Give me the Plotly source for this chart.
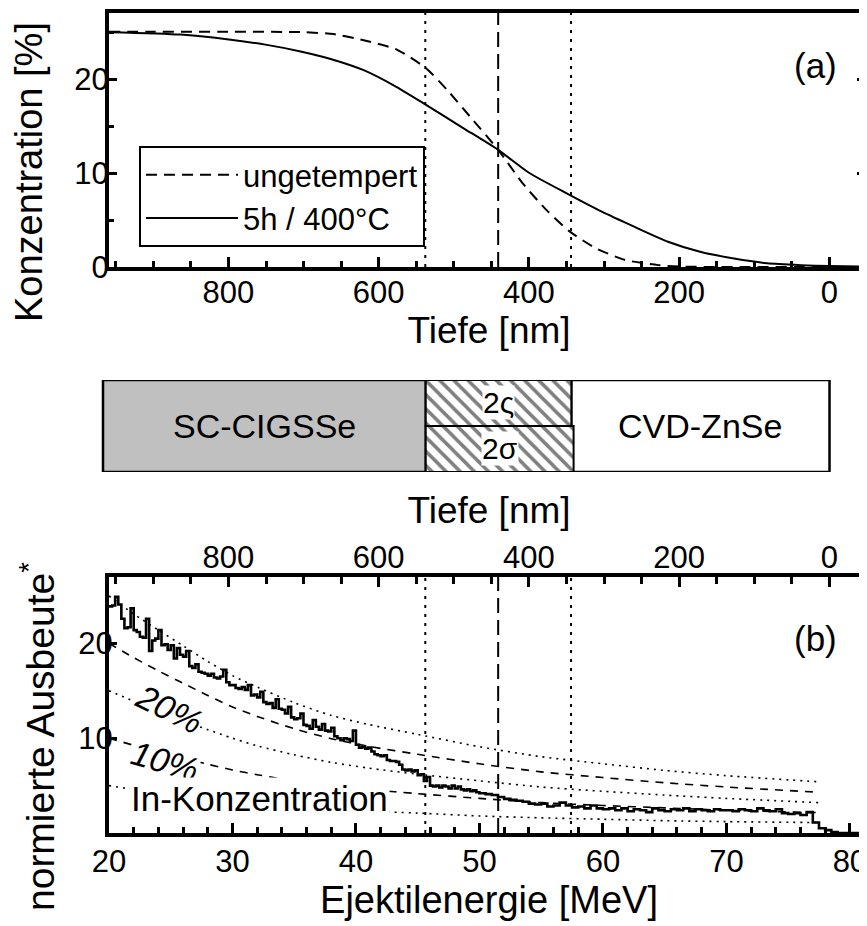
import plotly.graph_objects as go

# ---------------- data: panel (a) In depth profiles ----------------
depth_unannealed = [959, 900, 800, 700, 660, 620, 576, 537, 509, 478, 441, 408, 377, 346, 311, 272, 228, 200, 150, 0, -52]
conc_unannealed = [25.1, 25.1, 25.1, 25.05, 24.85, 24.2, 23.2, 21.2, 18.9, 16.0, 12.5, 8.9, 6.1, 3.8, 2.0, 0.75, 0.2, 0.05, 0.0, 0.0, 0.0]
depth_annealed = [959, 864, 802, 749, 704, 664, 620, 576, 537, 487, 441, 399, 346, 303, 260, 215, 171, 127, 83, 38, 0, -52]
conc_annealed = [25.05, 24.8, 24.3, 23.7, 23.0, 22.2, 21.0, 19.2, 17.3, 14.8, 12.5, 10.0, 7.7, 5.9, 4.3, 2.7, 1.6, 0.9, 0.4, 0.2, 0.1, 0.05]
series_names = ["ungetempert", "5h / 400°C"]

interface_depth = [441]
width_depths = [538, 344]

# ---------------- data: layer scheme ----------------
layer_names = ["SC-CIGSSe", "CVD-ZnSe"]
layer_start = [968, 344]
layer_end = [538, 0]
mix_names = ["2ς", "2σ"]
mix_start = [538, 538]
mix_end = [344, 341]

# ---------------- data: panel (b) spectrum ----------------
energy_bins = [20.0, 20.25, 20.5, 20.75, 21.0, 21.25, 21.5, 21.75, 22.0, 22.25, 22.5, 22.75,
               23.0, 23.25, 23.5, 23.75, 24.0, 24.25, 24.5, 24.75, 25.0, 25.25, 25.5, 25.75,
               26.0, 26.25, 26.5, 26.75, 27.0, 27.25, 27.5, 27.75, 28.0, 28.25, 28.5, 28.75,
               29.0, 29.25, 29.5, 29.75, 30.0, 30.25, 30.5, 30.75, 31.0, 31.25, 31.5, 31.75,
               32.0, 32.25, 32.5, 32.75, 33.0, 33.25, 33.5, 33.75, 34.0, 34.25, 34.5, 34.75,
               35.0, 35.25, 35.5, 35.75, 36.0, 36.25, 36.5, 36.75, 37.0, 37.25, 37.5, 37.75,
               38.0, 38.25, 38.5, 38.75, 39.0, 39.25, 39.5, 39.75, 40.0, 40.25, 40.5, 40.75,
               41.0, 41.25, 41.5, 41.75, 42.0, 42.25, 42.5, 42.75, 43.0, 43.25, 43.5, 43.75,
               44.0, 44.25, 44.5, 44.75, 45.0, 45.25, 45.5, 45.75, 46.0, 46.25, 46.5, 46.75,
               47.0, 47.25, 47.5, 47.75, 48.0, 48.25, 48.5, 48.75, 49.0, 49.25, 49.5, 49.75,
               50.0, 50.5, 51.0, 51.5, 52.0, 52.5, 53.0, 53.5, 54.0, 54.5, 55.0, 55.5,
               56.0, 56.5, 57.0, 57.5, 58.0, 58.5, 59.0, 59.5, 60.0, 60.5, 61.0, 61.5,
               62.0, 62.5, 63.0, 63.5, 64.0, 64.5, 65.0, 65.5, 66.0, 66.5, 67.0, 67.5,
               68.0, 68.5, 69.0, 69.5, 70.0, 70.5, 71.0, 71.5, 72.0, 72.5, 73.0, 73.5,
               74.0, 74.5, 75.0, 75.5, 76.0, 76.5, 77.0, 77.5, 78.0, 78.5, 79.0, 79.5,
               80.0, 80.5, 81.0]
spectrum = [23.9, 24.0, 24.9, 24.1, 22.6, 21.6, 21.7, 23.7, 21.4, 21.2, 20.7, 20.6,
            22.6, 19.2, 20.3, 20.5, 21.4, 19.8, 19.9, 19.3, 19.8, 18.4, 19.5, 18.8,
            18.6, 19.2, 17.6, 17.4, 17.8, 17.0, 16.9, 16.8, 16.6, 16.8, 16.4, 16.3,
            16.5, 17.2, 15.9, 15.6, 15.6, 15.3, 15.2, 15.4, 15.1, 15.6, 14.5, 14.6,
            14.3, 14.9, 13.8, 13.6, 13.7, 13.2, 14.1, 13.1, 13.0, 12.6, 13.3, 12.2,
            12.0, 12.1, 12.6, 11.4, 11.3, 11.0, 11.9, 11.2, 10.9, 11.5, 10.8, 10.7,
            11.1, 10.2, 10.0, 9.8, 10.0, 9.9, 9.7, 10.8, 9.3, 9.0, 9.1, 8.9,
            9.0, 8.6, 8.3, 8.2, 8.1, 8.2, 7.7, 7.6, 7.6, 7.5, 7.2, 6.7,
            6.6, 6.7, 6.5, 6.6, 6.1, 6.2, 5.5, 5.9, 5.0, 4.9, 5.0, 4.8,
            5.0, 4.9, 4.7, 5.0, 4.7, 4.9, 4.6, 4.5, 4.6, 4.4, 4.5, 4.3,
            4.2, 4.1, 4.0, 3.8, 3.6, 3.5, 3.4, 3.3, 3.1, 3.0, 3.1, 2.8,
            2.9, 3.2, 2.9, 2.7, 2.8, 2.6, 2.9, 2.6, 2.5, 2.6, 2.4, 2.6,
            2.3, 2.5, 2.4, 2.2, 2.6, 2.4, 2.3, 2.5, 2.4, 2.6, 2.3, 2.5,
            2.4, 2.3, 2.5, 2.4, 2.4, 2.3, 2.5, 2.4, 2.3, 2.6, 2.4, 2.3,
            2.5, 2.1, 2.0, 2.1, 1.9, 2.2, 1.1, 0.5, 0.3, 0.1, 0.0, 0.0,
            0.0, 0.0, 0.0]

# simulated yields for fixed In concentrations
sim_energy = [20, 22, 24, 26, 28, 30, 32, 35, 38, 41, 45, 50, 55, 60, 65, 70, 77.5]
sim_25 = [25.0, 23.1, 21.4, 19.75, 18.1, 16.6, 15.4, 13.75, 12.4, 11.45, 10.4, 9.1, 8.05, 7.3, 6.6, 6.05, 5.4]
sim_20 = [20.0, 18.5, 17.1, 15.8, 14.5, 13.3, 12.3, 11.0, 9.95, 9.15, 8.3, 7.3, 6.45, 5.85, 5.3, 4.85, 4.3]
sim_15 = [15.0, 13.9, 12.8, 11.85, 10.9, 10.0, 9.2, 8.25, 7.45, 6.85, 6.2, 5.5, 4.85, 4.4, 4.0, 3.65, 3.2]
sim_10 = [10.0, 9.25, 8.55, 7.9, 7.25, 6.65, 6.15, 5.5, 5.0, 4.6, 4.15, 3.65, 3.2, 2.9, 2.65, 2.4, 2.15]
sim_05 = [5.0, 4.6, 4.3, 3.95, 3.6, 3.3, 3.1, 2.75, 2.5, 2.3, 2.1, 1.8, 1.6, 1.45, 1.3, 1.2, 1.1]

depth_ticks = [800, 600, 400, 200, 0]
conc_ticks = [0, 10, 20]
conc_minor = [5, 15, 25]
yield_ticks = [10, 20]
energy_ticks = [20, 30, 40, 50, 60, 70, 80]

# ---------------- layout geometry ----------------
# The page body has an 8 px margin, so screen pixel p sits at figure pixel p - 8.
W, H = 867, 926
OFF = 8
FONT = "Liberation Sans, Arial, sans-serif"
BLACK = "#000000"


def fx(p):
    return (p - OFF) / W


def fy(p):
    return 1 - (p - OFF) / H


LEFT, RIGHT = 109, 869
DEPTH_RANGE = [959, -52.6]
ENERGY_RANGE = [20, 81.55]

fig = go.Figure()

# panel (a) curves
fig.add_trace(go.Scatter(x=depth_unannealed, y=conc_unannealed, mode="lines", name=series_names[0],
                         line=dict(color=BLACK, width=2, dash="11px,7px", shape="spline", smoothing=0.6),
                         xaxis="x", yaxis="y"))
fig.add_trace(go.Scatter(x=depth_annealed, y=conc_annealed, mode="lines", name=series_names[1],
                         line=dict(color=BLACK, width=2, shape="spline", smoothing=0.6),
                         xaxis="x", yaxis="y"))
# transparent twin so that the right-hand tick axis of panel (a) is drawn
fig.add_trace(go.Scatter(x=depth_annealed, y=conc_annealed, mode="lines", showlegend=False,
                         line=dict(width=0), opacity=0, hoverinfo="skip", xaxis="x", yaxis="y4"))

# layer scheme as horizontal bars
fig.add_trace(go.Bar(orientation="h", y=[1], width=[2], base=[layer_end[0]],
                     x=[layer_start[0] - layer_end[0]], xaxis="x3", yaxis="y3",
                     marker=dict(color="#c0c0c0", line=dict(color=BLACK, width=2.5)),
                     showlegend=False, hoverinfo="skip"))
fig.add_trace(go.Bar(orientation="h", y=[1], width=[2], base=[layer_end[1]],
                     x=[layer_start[1] - layer_end[1]], xaxis="x3", yaxis="y3",
                     marker=dict(color="white", line=dict(color=BLACK, width=2.5)),
                     showlegend=False, hoverinfo="skip"))
fig.add_trace(go.Bar(orientation="h", y=[1.5, 0.5], width=[1, 1], base=mix_end,
                     x=[s - e for s, e in zip(mix_start, mix_end)], xaxis="x3", yaxis="y3",
                     marker=dict(color="white", line=dict(color=BLACK, width=2),
                                 pattern=dict(shape="\\", fgcolor=BLACK, bgcolor="white",
                                              size=10, solidity=0.35)),
                     showlegend=False, hoverinfo="skip"))

# panel (b) simulated curves
sim_sets = [(sim_25, "dot"), (sim_20, "dash"), (sim_15, "dot"), (sim_10, "dash"), (sim_05, "dot")]
for vals, kind in sim_sets:
    fig.add_trace(go.Scatter(x=sim_energy, y=vals, mode="lines", showlegend=False,
                             line=dict(color=BLACK, width=1.6,
                                       dash="2px,5px" if kind == "dot" else "8px,7px",
                                       shape="spline", smoothing=0.8),
                             xaxis="x2", yaxis="y2"))

# measured spectrum
fig.add_trace(go.Scatter(x=energy_bins, y=spectrum, mode="lines", showlegend=False,
                         line=dict(color=BLACK, width=2.6, shape="hv"),
                         xaxis="x2", yaxis="y2"))
# transparent twin so that the right-hand tick axis of panel (b) is drawn
fig.add_trace(go.Scatter(x=energy_bins, y=spectrum, mode="lines", showlegend=False,
                         line=dict(width=0), opacity=0, hoverinfo="skip", xaxis="x2", yaxis="y5"))

# ---------------- vertical marker lines ----------------
shapes = []
for d in interface_depth:
    shapes.append(dict(type="line", xref="x", yref="y domain", x0=d, x1=d, y0=0, y1=1,
                       line=dict(color=BLACK, width=2, dash="15px,7px")))
    shapes.append(dict(type="line", xref="x4", yref="y2 domain", x0=d, x1=d, y0=0, y1=1,
                       line=dict(color=BLACK, width=2, dash="15px,7px")))
for d in width_depths:
    shapes.append(dict(type="line", xref="x", yref="y domain", x0=d, x1=d, y0=0, y1=1,
                       line=dict(color=BLACK, width=2, dash="3px,6px")))
    shapes.append(dict(type="line", xref="x4", yref="y2 domain", x0=d, x1=d, y0=0, y1=1,
                       line=dict(color=BLACK, width=2, dash="3px,6px")))

# ---------------- annotations ----------------
ann = []
ann.append(dict(text="Konzentration [%]", xref="paper", yref="paper", x=fx(29), y=fy(172),
                xanchor="center", yanchor="middle",
                textangle=-90, showarrow=False, font=dict(size=38, family=FONT, color=BLACK)))
ann.append(dict(text="normierte Ausbeute<sup>*</sup>", xref="paper", yref="paper", x=fx(37), y=fy(737),
                xanchor="center", yanchor="middle",
                textangle=-90, showarrow=False, font=dict(size=39, family=FONT, color=BLACK)))
ann.append(dict(text="(a)", xref="x", yref="y", x=19, y=21.5, showarrow=False,
                font=dict(size=35, family=FONT, color=BLACK)))
ann.append(dict(text="(b)", xref="x2", yref="y2", x=77.2, y=20.5, showarrow=False,
                font=dict(size=35, family=FONT, color=BLACK)))
for name, s, e in zip(layer_names, layer_start, layer_end):
    ann.append(dict(text=name, xref="x3", yref="y3", x=(s + e) / 2, y=1, showarrow=False,
                    font=dict(size=34, family=FONT, color=BLACK)))
for name, s, e, yy in zip(mix_names, mix_start, mix_end, [1.5, 0.5]):
    ann.append(dict(text=name, xref="x3", yref="y3", x=(s + e) / 2, y=yy, showarrow=False,
                    bgcolor="white", borderpad=0,
                    font=dict(size=30, family=FONT, color=BLACK)))
ann.append(dict(text="20%", xref="x2", yref="y2", x=24.9, y=13.1, textangle=26, showarrow=False,
                bgcolor="white", borderpad=0,
                font=dict(size=34, family=FONT, color=BLACK, style="italic")))
ann.append(dict(text="10%", xref="x2", yref="y2", x=24.5, y=7.6, textangle=16, showarrow=False,
                bgcolor="white", borderpad=0,
                font=dict(size=34, family=FONT, color=BLACK, style="italic")))
ann.append(dict(text="In-Konzentration", xref="x2", yref="y2", x=32.2, y=3.6, showarrow=False,
                bgcolor="white", borderpad=1,
                font=dict(size=35, family=FONT, color=BLACK)))

axis_common = dict(showgrid=False, zeroline=False, showline=True, linecolor=BLACK, linewidth=4,
                   ticks="inside", tickcolor=BLACK, tickwidth=3, ticklen=10, automargin=False,
                   tickfont=dict(size=31, family=FONT, color=BLACK))

fig.update_layout(
    width=W, height=H, autosize=False,
    margin=dict(l=0, r=0, t=0, b=0, pad=0, autoexpand=False),
    paper_bgcolor="white", plot_bgcolor="white",
    font=dict(family=FONT, color=BLACK),
    barmode="overlay",
    shapes=shapes, annotations=ann,
    legend=dict(x=fx(139), y=fy(146), xanchor="left", yanchor="top",
                bordercolor=BLACK, borderwidth=2, bgcolor="white",
                font=dict(size=31, family=FONT, color=BLACK), itemwidth=92, tracegroupgap=0),
    xaxis=dict(axis_common, domain=[fx(LEFT), fx(RIGHT)], range=DEPTH_RANGE, anchor="y", mirror=True,
               tickvals=depth_ticks, ticklabelstandoff=-5,
               minor=dict(dtick=50, tick0=0, ticks="inside", ticklen=6, tickwidth=2.5, tickcolor=BLACK),
               title=dict(text="Tiefe [nm]", font=dict(size=37, family=FONT, color=BLACK), standoff=6)),
    yaxis=dict(axis_common, domain=[fy(267), fy(13)], range=[0, 27.1], anchor="x",
               tickvals=conc_ticks, ticklen=8, ticklabelstandoff=-10,
               minor=dict(tickvals=conc_minor, ticks="inside", ticklen=5, tickwidth=2.5, tickcolor=BLACK)),
    yaxis4=dict(overlaying="y", side="right", anchor="x", range=[0, 27.1], showgrid=False, zeroline=False,
                showline=False, ticks="inside", tickvals=conc_ticks[1:], ticklen=12, tickwidth=3,
                tickcolor=BLACK, showticklabels=False, automargin=False,
                minor=dict(tickvals=conc_minor, ticks="inside", ticklen=5, tickwidth=3, tickcolor=BLACK)),
    xaxis2=dict(axis_common, domain=[fx(LEFT), fx(RIGHT)], range=ENERGY_RANGE, anchor="y2", mirror=False,
                tickvals=energy_ticks, ticklabelstandoff=-2,
                minor=dict(dtick=2, tick0=20, ticks="inside", ticklen=6, tickwidth=2.5, tickcolor=BLACK),
                title=dict(text="Ejektilenergie [MeV]", font=dict(size=38, family=FONT, color=BLACK),
                           standoff=4)),
    xaxis4=dict(axis_common, overlaying="x2", side="top", anchor="y2", range=DEPTH_RANGE,
                tickvals=depth_ticks, ticklabelstandoff=-7,
                minor=dict(dtick=50, tick0=0, ticks="inside", ticklen=7, tickwidth=2.5, tickcolor=BLACK),
                title=dict(text="Tiefe [nm]", font=dict(size=37, family=FONT, color=BLACK), standoff=6)),
    yaxis2=dict(axis_common, domain=[fy(833), fy(577)], range=[0, 27], anchor="x2",
                tickvals=yield_ticks, ticklen=8, ticklabelstandoff=-14),
    yaxis5=dict(overlaying="y2", side="right", anchor="x2", range=[0, 27], showgrid=False, zeroline=False,
                showline=False, ticks="inside", tickvals=yield_ticks, ticklen=7, tickwidth=3,
                tickcolor=BLACK, showticklabels=False, automargin=False),
    xaxis3=dict(domain=[fx(100), fx(RIGHT)], range=[972, -52.6], anchor="y3", visible=False),
    yaxis3=dict(domain=[fy(472), fy(380)], range=[0, 2], anchor="x3", visible=False),
)

fig.write_html("out.html")
